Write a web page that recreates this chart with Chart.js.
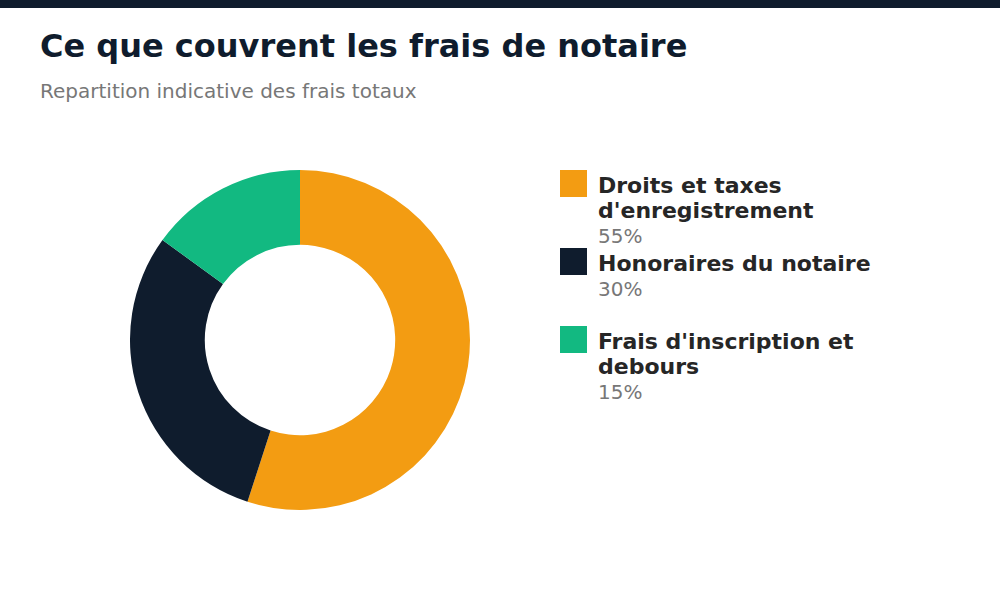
<!DOCTYPE html>
<html>
<head>
<meta charset="utf-8">
<script src="https://cdn.jsdelivr.net/npm/chart.js@4/dist/chart.umd.min.js"></script>
<style>
  html, body { margin: 0; padding: 0; background: #fff; }
  body { width: 1000px; height: 600px; position: relative; overflow: hidden; font-family: "DejaVu Sans", sans-serif; }
  #topbar { position: absolute; left: 0; top: 0; width: 1000px; height: 8px; background: #0f1c2d; }
  #title { position: absolute; left: 40px; top: 30px; font-size: 32px; line-height: 1; font-weight: bold; color: #0f1c2d; white-space: nowrap; }
  #subtitle { position: absolute; left: 40px; top: 81px; font-size: 20px; line-height: 1; color: #777; white-space: nowrap; }
  #chartbox { position: absolute; left: 130px; top: 170px; width: 340px; height: 340px; }
  #legend { position: absolute; left: 560px; top: 170px; width: 400px; }
  .item { position: absolute; left: 0; width: 400px; }
  .sw { position: absolute; left: 0; top: 0; width: 27px; height: 27px; }
  .txt { position: absolute; left: 38px; top: 3px; width: 330px; }
  .lab { font-size: 22px; line-height: normal; font-weight: bold; color: #262626; }
  .pct { font-size: 20px; line-height: normal; color: #777; margin-top: 1px; }
</style>
</head>
<body>
<div id="topbar"></div>
<div id="title">Ce que couvrent les frais de notaire</div>
<div id="subtitle">Repartition indicative des frais totaux</div>
<div id="chartbox"><canvas id="c" width="340" height="340"></canvas></div>
<div id="legend"></div>
<script>
const categories = ["Droits et taxes d'enregistrement", "Honoraires du notaire", "Frais d'inscription et debours"];
const shares = [55, 30, 15];
const colors = ["#f39c12", "#0f1c2d", "#12b981"];

const legend = document.getElementById('legend');
categories.forEach((cat, i) => {
  const item = document.createElement('div');
  item.className = 'item';
  item.style.top = (i * 78) + 'px';
  const sw = document.createElement('div');
  sw.className = 'sw';
  sw.style.background = colors[i];
  const txt = document.createElement('div');
  txt.className = 'txt';
  const lab = document.createElement('div');
  lab.className = 'lab';
  lab.textContent = cat;
  const pct = document.createElement('div');
  pct.className = 'pct';
  pct.textContent = shares[i] + '%';
  txt.appendChild(lab); txt.appendChild(pct);
  item.appendChild(sw); item.appendChild(txt);
  legend.appendChild(item);
});

new Chart(document.getElementById('c'), {
  type: 'doughnut',
  data: {
    labels: categories,
    datasets: [{ data: shares, backgroundColor: colors, borderWidth: 0, hoverOffset: 0 }]
  },
  options: {
    responsive: false,
    animation: false,
    cutout: '56%',
    layout: { padding: 0 },
    plugins: { legend: { display: false }, tooltip: { enabled: false } }
  }
});
</script>
</body>
</html>
